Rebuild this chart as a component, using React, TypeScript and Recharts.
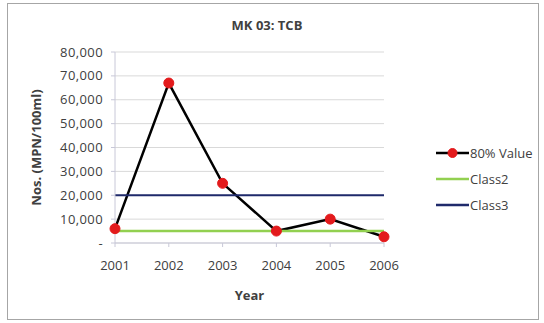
import React from 'react';
import { LineChart, Line, XAxis, YAxis, CartesianGrid } from 'recharts';

const years = ['2001', '2002', '2003', '2004', '2005', '2006'];
const value80 = [6000, 67000, 25000, 5000, 10000, 2600];
const class2 = [5000, 5000, 5000, 5000, 5000, 5000];
const class3 = [20000, 20000, 20000, 20000, 20000, 20000];
const yTicks = [0, 10000, 20000, 30000, 40000, 50000, 60000, 70000, 80000];

const data = years.map((y, i) => ({
  year: y,
  v80: value80[i],
  c2: class2[i],
  c3: class3[i],
}));

const FONT = '"Open Sans", sans-serif';
const TEXT = '#404040';

const fmt = (v: number) => (v === 0 ? '-' : v.toLocaleString('en-US'));

const legendItems = [
  { name: '80% Value', color: '#000000', dot: true },
  { name: 'Class2', color: '#92d050', dot: false },
  { name: 'Class3', color: '#1f2a6b', dot: false },
];

const LegendBox = () => (
  <div
    style={{
      position: 'absolute',
      left: 436,
      top: 140,
      fontFamily: FONT,
      fontSize: 13,
      color: TEXT,
    }}
  >
    {legendItems.map((it) => (
      <div key={it.name} style={{ display: 'flex', alignItems: 'center', height: 26 }}>
        <svg width={33} height={12}>
          <line x1={0} y1={6} x2={33} y2={6} stroke={it.color} strokeWidth={2.5} />
          {it.dot && <circle cx={16.5} cy={6} r={4.5} fill="#e31a1c" stroke="#e31a1c" />}
        </svg>
        <span style={{ marginLeft: 1 }}>{it.name}</span>
      </div>
    ))}
  </div>
);

export default function App() {
  return (
    <div style={{ position: 'absolute', left: 0, top: 0, width: 544, height: 323, background: '#fff' }}>
      <div
        style={{
          position: 'absolute',
          left: 7,
          top: 3,
          width: 532,
          height: 317,
          border: '1px solid #a6a6a6',
          boxSizing: 'border-box',
        }}
      />
      <div
        style={{
          position: 'absolute',
          left: 0,
          width: 534,
          top: 16,
          textAlign: 'center',
          fontFamily: FONT,
          fontWeight: 'bold',
          fontSize: 13,
          color: TEXT,
        }}
      >
        MK 03: TCB
      </div>
      <div style={{ position: 'absolute', left: 0, top: 0 }}>
        <LineChart
          width={544}
          height={323}
          data={data}
          margin={{ top: 52, right: 160, bottom: 50, left: 20 }}
        >
          <CartesianGrid vertical={false} stroke="#d9d9d9" strokeWidth={1} />
          <XAxis
            dataKey="year"
            padding={{ left: 0, right: 0 }}
            stroke="#c8c8d8"
            tick={{ fill: TEXT, fontFamily: FONT, fontSize: 13 }}
            tickLine={{ stroke: '#c8c8d8' }}
            tickSize={4}
            height={30}
            tickMargin={14}
            label={{
              value: 'Year',
              position: 'insideBottom',
              offset: -27,
              fill: TEXT,
              fontFamily: FONT,
              fontSize: 13,
              fontWeight: 'bold',
            }}
          />
          <YAxis
            domain={[0, 80000]}
            ticks={yTicks}
            tickFormatter={fmt}
            width={95}
            stroke="#c8c8d8"
            tickSize={4}
            tickMargin={8}
            tick={{ fill: TEXT, fontFamily: FONT, fontSize: 13, letterSpacing: 0.4 }}
            label={{
              value: 'Nos. (MPN/100ml)',
              angle: -90,
              position: 'insideLeft',
              offset: 16,
              style: { textAnchor: 'middle' },
              fill: TEXT,
              fontFamily: FONT,
              fontSize: 13,
              fontWeight: 'bold',
            }}
          />
          <Line
            dataKey="v80"
            name="80% Value"
            stroke="#000000"
            strokeWidth={2.5}
            dot={{ r: 5, fill: '#e31a1c', stroke: '#e31a1c', strokeWidth: 1 }}
            isAnimationActive={false}
          />
          <Line
            dataKey="c2"
            name="Class2"
            stroke="#92d050"
            strokeWidth={2.5}
            dot={false}
            isAnimationActive={false}
          />
          <Line
            dataKey="c3"
            name="Class3"
            stroke="#1f2a6b"
            strokeWidth={2}
            dot={false}
            isAnimationActive={false}
          />
        </LineChart>
      </div>
      <LegendBox />
    </div>
  );
}
